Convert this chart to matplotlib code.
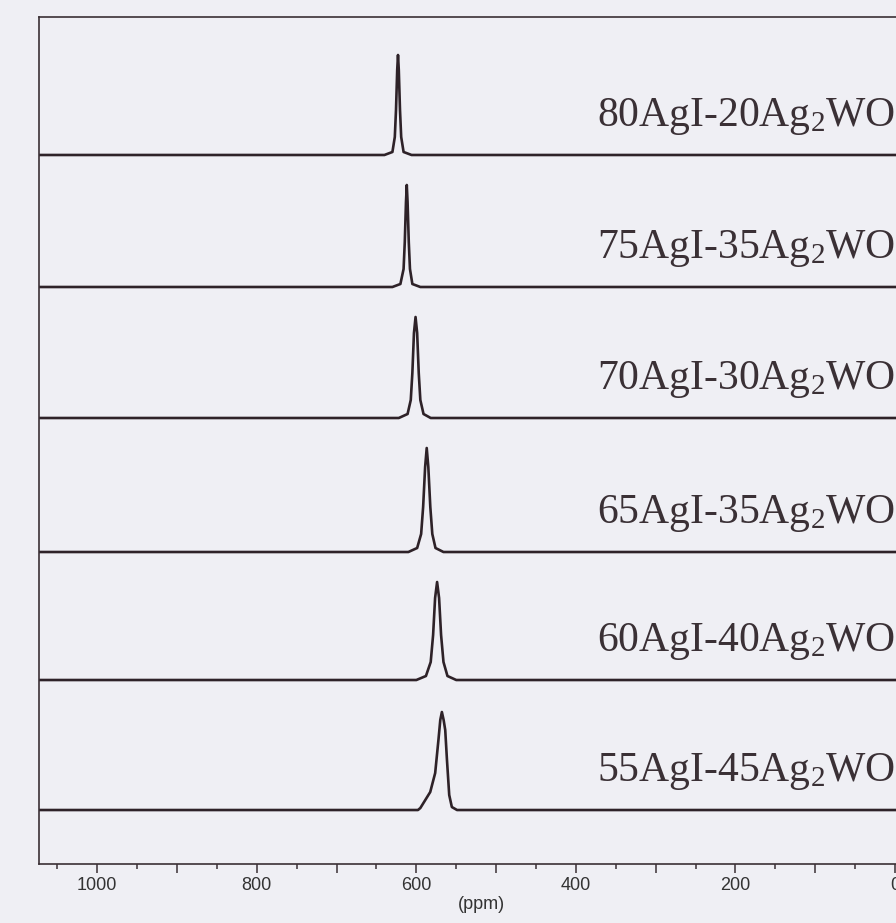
import matplotlib
matplotlib.use("Agg")
import matplotlib.pyplot as plt
from matplotlib.ticker import MultipleLocator, FuncFormatter

plt.rcParams["mathtext.fontset"] = "custom"
plt.rcParams["mathtext.rm"] = "Liberation Serif"
plt.rcParams["mathtext.it"] = "Liberation Serif:italic"

# sample labels, top to bottom (as printed in the figure)
labels = [
    r"80AgI-20Ag$_\mathregular{2}$WO$_\mathregular{4}$",
    r"75AgI-35Ag$_\mathregular{2}$WO$_\mathregular{4}$",
    r"70AgI-30Ag$_\mathregular{2}$WO$_\mathregular{4}$",
    r"65AgI-35Ag$_\mathregular{2}$WO$_\mathregular{4}$",
    r"60AgI-40Ag$_\mathregular{2}$WO$_\mathregular{4}$",
    r"55AgI-45Ag$_\mathregular{2}$WO$_\mathregular{4}$",
]

# vertical stacking offsets (normalised intensity units)
offsets = [7.09, 5.77, 4.46, 3.12, 1.84, 0.54]

# peak outlines: chemical shift (ppm) / intensity
peak_ppm = [
    [640, 630, 627, 625.5, 624, 623, 622, 620.5, 619, 616, 606],
    [630, 620, 616, 614.5, 613, 612, 611, 609.5, 608, 605, 595],
    [622, 611, 607, 605, 603, 601, 599, 597, 595, 591, 582],
    [610, 599, 594, 591.5, 589, 587, 585, 582.5, 580, 576, 566],
    [600, 588, 582, 579, 576.5, 574, 571.5, 569, 566, 561, 550],
    [598, 595, 582.6, 576.4, 572.2, 570, 568, 565.8, 563.8, 561.7, 558.8, 555.5, 549],
]
peak_int = [
    [0, 0.03, 0.18, 0.45, 0.85, 1.00, 0.85, 0.45, 0.18, 0.03, 0],
    [0, 0.03, 0.18, 0.45, 0.85, 1.02, 0.85, 0.45, 0.18, 0.03, 0],
    [0, 0.04, 0.18, 0.45, 0.85, 1.01, 0.85, 0.45, 0.18, 0.04, 0],
    [0, 0.04, 0.18, 0.45, 0.85, 1.04, 0.85, 0.45, 0.18, 0.04, 0],
    [0, 0.04, 0.18, 0.45, 0.82, 0.98, 0.82, 0.45, 0.18, 0.04, 0],
    [0, 0.02, 0.18, 0.37, 0.71, 0.90, 0.98, 0.90, 0.80, 0.51, 0.15, 0.03, 0],
]

PPM_MAX, PPM_MIN = 1073, -35
INK = "#2e2228"
BG = "#efeff4"

fig = plt.figure(figsize=(8.96, 9.23), dpi=100, facecolor=BG)
ax = fig.add_axes([0.0435, 0.0639, 0.9866, 0.9177], facecolor=BG)

for off, xs, ys, lab in zip(offsets, peak_ppm, peak_int, labels):
    x = [PPM_MAX + 5] + xs + [PPM_MIN - 5]
    y = [0] + ys + [0]
    ax.plot(x, [v + off for v in y], color=INK, lw=1.9, solid_joinstyle="round")
    ax.text(374, off + 0.29, lab, fontsize=30, family="Liberation Serif",
            color="#3a3035", ha="left", va="baseline")

ax.set_xlim(PPM_MAX, PPM_MIN)
ax.set_ylim(0, 8.47)
ax.set_yticks([])
ax.xaxis.set_major_locator(MultipleLocator(100))
ax.xaxis.set_minor_locator(MultipleLocator(50))
ax.xaxis.set_major_formatter(
    FuncFormatter(lambda v, p: f"{v:.0f}" if round(v) % 200 == 0 else ""))
ax.tick_params(axis="x", which="major", direction="out", length=6.5, width=1.1,
               color="#3a3035", labelsize=13, pad=3, labelcolor="#333")
ax.tick_params(axis="x", which="minor", direction="out", length=3.6, width=1.1,
               color="#3a3035")
for lab in ax.get_xticklabels():
    lab.set_family("Liberation Sans")
ax.set_xlabel("(ppm)", fontsize=13, family="Liberation Sans", color="#333", labelpad=1)
for s in ["top", "left", "bottom", "right"]:
    ax.spines[s].set_color("#3a3035")
    ax.spines[s].set_linewidth(1.2)

fig.savefig("out.png", dpi=100, facecolor=BG)
